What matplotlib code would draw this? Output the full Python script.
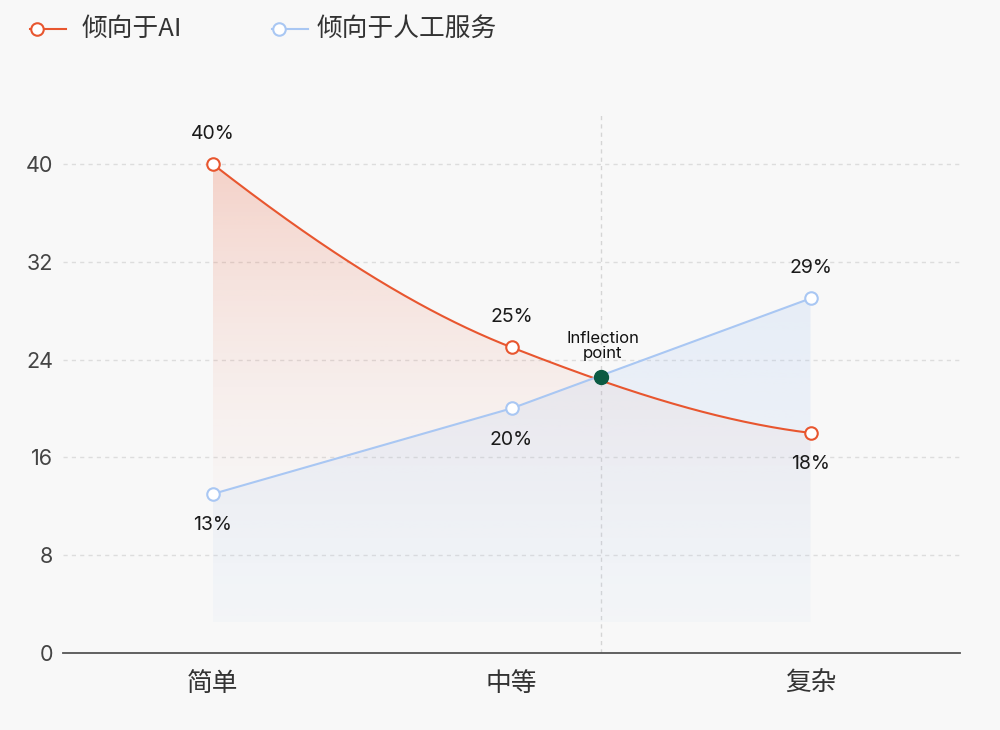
import numpy as np
import matplotlib
matplotlib.use("Agg")
import matplotlib.pyplot as plt
from matplotlib.lines import Line2D
from matplotlib.patches import Polygon
from matplotlib.colors import to_rgb

plt.rcParams['font.family'] = ['Noto Sans CJK SC', 'DejaVu Sans']

categories = ['简单', '中等', '复杂']
ai_values = [40, 25, 18]
human_values = [13, 20, 29]
series_names = ['倾向于AI', '倾向于人工服务']
yticks = [0, 8, 16, 24, 32, 40]
inflection_x = 1.3
inflection_y = 22.6
inflection_label = 'Inflection\npoint'

RED = '#E8562F'
BLUE = '#A9C7F3'
GREEN = '#0B5A43'
BG = '#F8F8F8'


def pchip(x, y, xs):
    x = np.asarray(x, float); y = np.asarray(y, float)
    h = np.diff(x); d = np.diff(y) / h
    n = len(x)
    m = np.zeros(n)
    for k in range(1, n - 1):
        if d[k - 1] * d[k] <= 0:
            m[k] = 0
        else:
            w1 = 2 * h[k] + h[k - 1]; w2 = h[k] + 2 * h[k - 1]
            m[k] = (w1 + w2) / (w1 / d[k - 1] + w2 / d[k])
    m[0] = ((2 * h[0] + h[1]) * d[0] - h[0] * d[1]) / (h[0] + h[1])
    if np.sign(m[0]) != np.sign(d[0]): m[0] = 0
    m[-1] = ((2 * h[-1] + h[-2]) * d[-1] - h[-1] * d[-2]) / (h[-1] + h[-2])
    if np.sign(m[-1]) != np.sign(d[-1]): m[-1] = 0
    out = np.empty_like(xs)
    for i, xv in enumerate(xs):
        k = min(np.searchsorted(x, xv, side='right') - 1, n - 2)
        k = max(k, 0)
        t = (xv - x[k]) / h[k]
        h00 = 2*t**3 - 3*t**2 + 1; h10 = t**3 - 2*t**2 + t
        h01 = -2*t**3 + 3*t**2; h11 = t**3 - t**2
        out[i] = h00*y[k] + h10*h[k]*m[k] + h01*y[k+1] + h11*h[k]*m[k+1]
    return out


fig = plt.figure(figsize=(10, 7.3), dpi=100, facecolor=BG)
ax = fig.add_axes([0.063, (730 - 653) / 730, 0.897, (653 - 115) / 730])
ax.set_facecolor(BG)
xi = np.arange(len(categories))
ax.set_xlim(-0.5, len(categories) - 0.5)
ax.set_ylim(0, 44)

xs = np.linspace(0, len(categories) - 1, 300)
ai_curve = pchip(xi, ai_values, xs)
hu_curve = np.interp(xs, xi, human_values)


def grad_fill(xc, yc, color, a_top, a_bot, ymax, power):
    rgb = to_rgb(color)
    n = 256
    t = np.linspace(0, 1, n)
    alphas = a_bot + (a_top - a_bot) * t ** power
    img = np.zeros((n, 1, 4))
    img[:, 0, :3] = rgb
    img[:, 0, 3] = alphas
    im = ax.imshow(img, aspect='auto', origin='lower',
                   extent=[xc[0], xc[-1], 2.5, ymax], zorder=1)
    verts = np.column_stack([np.r_[xc, xc[-1], xc[0]], np.r_[yc, 2.5, 2.5]])
    poly = Polygon(verts, closed=True, facecolor='none', edgecolor='none')
    ax.add_patch(poly)
    im.set_clip_path(poly)


grad_fill(xs, ai_curve, RED, 0.24, 0.0, max(ai_values), 2.0)
grad_fill(xs, hu_curve, BLUE, 0.22, 0.06, max(human_values), 1.0)

for y in yticks[1:]:
    ax.axhline(y, color='#DDDDDD', lw=1, ls=(0, (3, 3)), zorder=0.5)
ax.axvline(inflection_x, color='#D5D5D5', lw=1, ls=(0, (3, 3)), zorder=0.6)

ax.plot(xs, ai_curve, color=RED, lw=1.5, zorder=3)
ax.plot(xs, hu_curve, color=BLUE, lw=1.5, zorder=3)
ax.plot(xi, ai_values, 'o', ms=9, mfc='white', mec=RED, mew=1.5, zorder=4)
ax.plot(xi, human_values, 'o', ms=9, mfc='white', mec=BLUE, mew=1.5, zorder=4)

ax.plot([inflection_x], [inflection_y], 'o', ms=10, color=GREEN, zorder=5)
ax.annotate(inflection_label, (inflection_x, inflection_y), xytext=(1, 11),
            textcoords='offset points', ha='center', va='bottom', fontsize=12,
            color='#111111', family=['Inter', 'DejaVu Sans'], linespacing=1.0)

ai_pos = ['above', 'above', 'below']
hu_pos = ['below', 'below', 'above']
for vals, pos in ((ai_values, ai_pos), (human_values, hu_pos)):
    for x, v, p in zip(xi, vals, pos):
        off = 23 if p == 'above' else -21
        ax.annotate(f'{v}%', (x, v), xytext=(0, off), textcoords='offset points',
                    ha='center', va='center_baseline', fontsize=14, color='#1A1A1A',
                    family=['Inter', 'DejaVu Sans'])

ax.set_xticks(xi)
ax.set_xticklabels(categories, fontsize=18.5, color='#333333')
ax.set_yticks(yticks)
ax.set_yticklabels([str(t) for t in yticks], fontsize=15.5, color='#444444',
                   family=['Inter', 'DejaVu Sans'])
ax.tick_params(axis='both', length=0)
ax.tick_params(axis='x', pad=13)
ax.tick_params(axis='y', pad=7)
for s in ('top', 'right', 'left'):
    ax.spines[s].set_visible(False)
ax.spines['bottom'].set_color('#555555')
ax.spines['bottom'].set_linewidth(1.3)
ax.spines['bottom'].set_zorder(6)

# legend
W, H = 1000, 730
def fx(px): return px / W
def fy(py): return 1 - py / H
for (c, name, x0, x1, tx) in ((RED, series_names[0], 30, 66, 82),
                              (BLUE, series_names[1], 272, 308, 317)):
    fig.add_artist(Line2D([fx(x0), fx(x1)], [fy(29), fy(29)], color=c, lw=1.5,
                          transform=fig.transFigure))
    fig.add_artist(Line2D([fx(x0 + 7)], [fy(29)], marker='o', ms=9, mfc='white',
                          mec=c, mew=1.5, transform=fig.transFigure))
    fig.text(fx(tx), fy(29), name, ha='left', va='center', fontsize=18.5, color='#333333')

fig.savefig('out.png', dpi=100, facecolor=BG)
